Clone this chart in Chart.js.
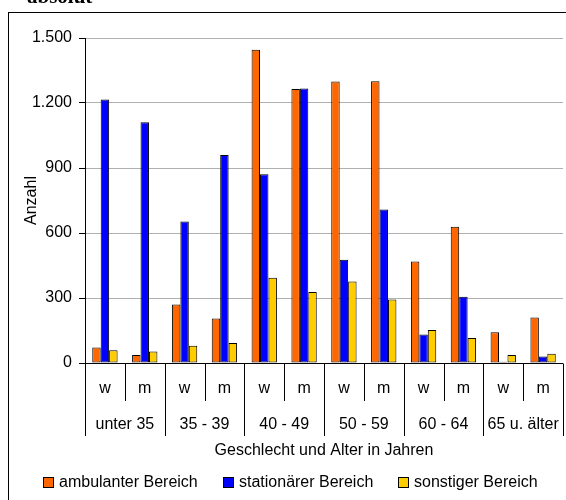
<!DOCTYPE html>
<html>
<head>
<meta charset="utf-8">
<script src="https://cdn.jsdelivr.net/npm/chart.js@4.4.0/dist/chart.umd.min.js"></script>
<style>
    html, body { margin: 0; padding: 0; background: #ffffff; overflow: hidden; }
    #wrap { position: relative; width: 566px; height: 500px; }
</style>
</head>
<body>
<div id="wrap"><canvas id="ageChart" width="566" height="500"></canvas></div>
<script>
// Chart data
const sexLabels = ['w', 'm', 'w', 'm', 'w', 'm', 'w', 'm', 'w', 'm', 'w', 'm'];
const ageGroups = ['unter 35', '35 - 39', '40 - 49', '50 - 59', '60 - 64', '65 u. älter'];
const seriesNames = ['ambulanter Bereich', 'stationärer Bereich', 'sonstiger Bereich'];
const ambulant = [71, 37, 270, 205, 1446, 1265, 1299, 1300, 468, 629, 142, 210];
const stationaer = [1216, 1111, 653, 960, 871, 1267, 477, 709, 132, 306, 6, 30];
const sonstig = [59, 53, 80, 92, 394, 328, 376, 293, 152, 115, 37, 43];
const yTicks = [0, 300, 600, 900, 1200, 1500];

const seriesColors = ['#ff6600', '#0000ff', '#ffcc00'];
const FONT = '16px "Liberation Sans", Arial, sans-serif';

function formatDe(v) {
    return String(v).replace(/\B(?=(\d{3})+(?!\d))/g, '.');
}

// frame, title, category groups, axis titles and legend
const decorPlugin = {
    id: 'decor',
    beforeDraw(chart) {
        const ctx = chart.ctx;
        ctx.save();
        ctx.strokeStyle = '#000';
        ctx.lineWidth = 1;
        ctx.strokeRect(8.5, 12.5, 700, 700);
        ctx.fillStyle = '#000';
        ctx.font = 'bold 21px "Liberation Serif", "Times New Roman", serif';
        ctx.textBaseline = 'alphabetic';
        ctx.textAlign = 'left';
        ctx.fillText('absolut', 27, 3);
        ctx.restore();
    },
    afterDraw(chart) {
        const ctx = chart.ctx;
        const x = chart.scales.x;
        const area = chart.chartArea;
        const n = sexLabels.length;
        const base = Math.round(area.bottom) + 0.5;

        const bound = i => {
            if (i === 0) return area.left;
            if (i === n) return area.right;
            return (x.getPixelForValue(i - 1) + x.getPixelForValue(i)) / 2;
        };

        ctx.save();
        ctx.strokeStyle = '#000';
        ctx.lineWidth = 1;
        ctx.beginPath();
        ctx.moveTo(area.left, base);
        ctx.lineTo(area.right, base);
        for (let i = 0; i <= n; i++) {
            const bx = Math.round(bound(i)) + 0.5;
            ctx.moveTo(bx, base);
            ctx.lineTo(bx, i % 2 === 0 ? 436 : 401);
        }
        ctx.stroke();

        ctx.fillStyle = '#000';
        ctx.font = FONT;
        ctx.textAlign = 'center';
        ctx.textBaseline = 'middle';
        sexLabels.forEach((lab, i) => {
            ctx.fillText(lab, x.getPixelForValue(i), 389);
        });
        ageGroups.forEach((lab, g) => {
            ctx.fillText(lab, (bound(g * 2) + bound(g * 2 + 2)) / 2, 425);
        });
        ctx.fillText('Geschlecht und Alter in Jahren', (area.left + area.right) / 2, 451);

        // y axis title
        ctx.save();
        ctx.translate(32, (area.top + area.bottom) / 2);
        ctx.rotate(-Math.PI / 2);
        ctx.fillText('Anzahl', 0, 0);
        ctx.restore();

        // legend
        const legendX = [43, 223, 398];
        ctx.textAlign = 'left';
        seriesNames.forEach((name, i) => {
            ctx.fillStyle = seriesColors[i];
            ctx.fillRect(legendX[i], 477, 11, 11);
            ctx.strokeStyle = '#000';
            ctx.strokeRect(legendX[i] + 0.5, 477.5, 10, 10);
            ctx.fillStyle = '#000';
            ctx.fillText(name, legendX[i] + 16, 482.5);
        });
        ctx.restore();
    }
};

document.addEventListener('DOMContentLoaded', function() {
    const chartCtx = document.getElementById('ageChart').getContext('2d');
    new Chart(chartCtx, {
        type: 'bar',
        data: {
            labels: sexLabels,
            datasets: [
                { label: seriesNames[0], data: ambulant, backgroundColor: seriesColors[0] },
                { label: seriesNames[1], data: stationaer, backgroundColor: seriesColors[1] },
                { label: seriesNames[2], data: sonstig, backgroundColor: seriesColors[2] }
            ].map(ds => Object.assign(ds, {
                borderColor: '#000',
                borderWidth: 1,
                borderSkipped: false,
                barPercentage: 1,
                categoryPercentage: 0.636
            }))
        },
        options: {
            responsive: false,
            animation: false,
            devicePixelRatio: 1,
            layout: {
                padding: { top: 38, right: 3, left: 0, bottom: 0 }
            },
            plugins: {
                legend: { display: false },
                tooltip: { enabled: false }
            },
            scales: {
                x: {
                    ticks: { display: false },
                    grid: { display: false },
                    border: { display: false },
                    afterFit: s => { s.height = 137; }
                },
                y: {
                    min: 0,
                    max: 1500,
                    afterBuildTicks: s => { s.ticks = yTicks.map(v => ({ value: v })); },
                    afterFit: s => { s.width = 85; },
                    ticks: {
                        color: '#000',
                        padding: 7,
                        font: { family: '"Liberation Sans", Arial, sans-serif', size: 16 },
                        callback: v => formatDe(v)
                    },
                    grid: {
                        color: c => c.tick && c.tick.value === 0 ? '#000' : '#b0b0b0',
                        tickColor: '#000',
                        tickLength: 6,
                        lineWidth: 1
                    },
                    border: { color: '#000', width: 1 }
                }
            }
        },
        plugins: [decorPlugin]
    });
});
</script>
</body>
</html>
